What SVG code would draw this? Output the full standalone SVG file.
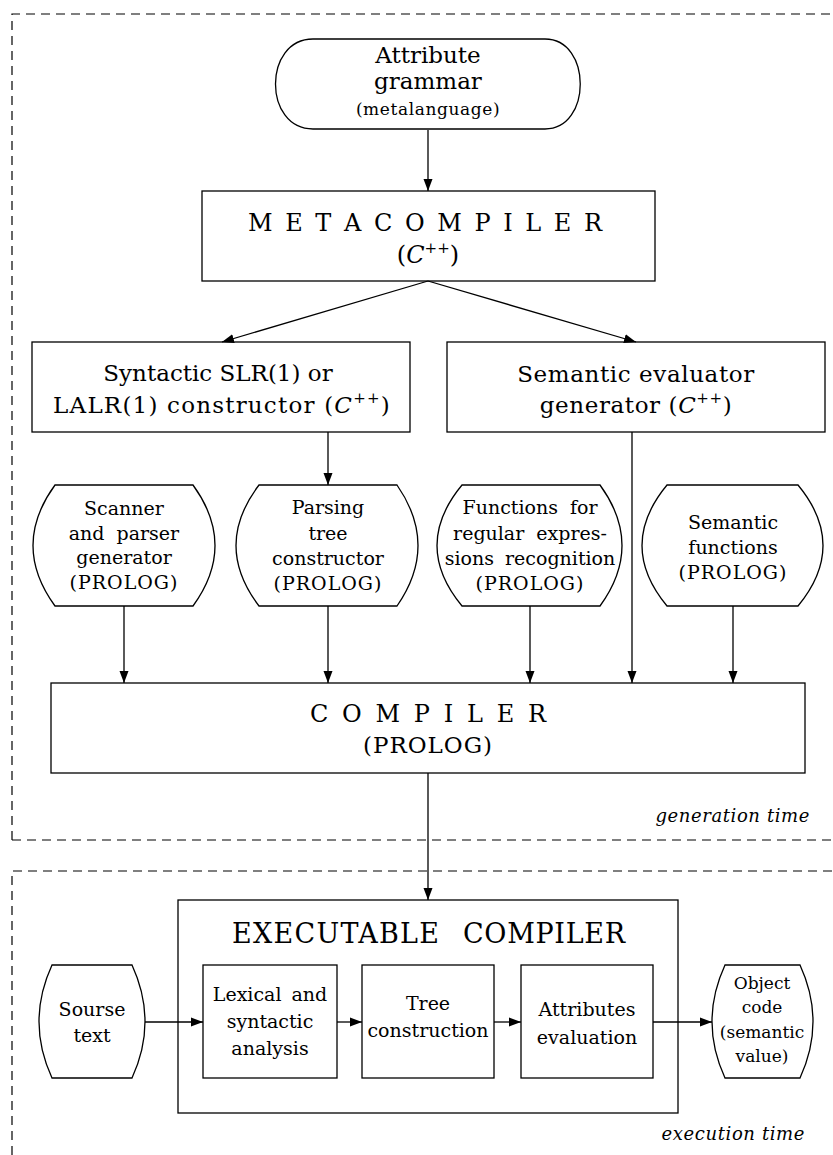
<svg xmlns="http://www.w3.org/2000/svg" width="833" height="1155" viewBox="0 0 833 1155" font-family="'DejaVu Serif', 'Liberation Serif', serif">
<defs>
<marker id="arr" viewBox="0 0 12 10" refX="12" refY="5" markerWidth="12" markerHeight="10" markerUnits="userSpaceOnUse" orient="auto">
<path d="M0,0.5 L12,5 L0,9.5 z" fill="#000"/>
</marker>
<style>
.s{fill:#fff;stroke:#000;stroke-width:1.3}
.n{fill:none;stroke:#000;stroke-width:1.3}
.d{fill:none;stroke:#000;stroke-width:1.2;stroke-dasharray:9,6}
.c{fill:none;stroke:#000;stroke-width:1.3}
text{fill:#000;text-anchor:middle}
.X{font-size:24px}
.L{font-size:23px}
.T{font-size:27px}
.M{font-size:19px}
.S{font-size:17px}
.i{font-style:italic}
.sup{font-size:15px}
.lab{font-size:18px;font-style:italic;text-anchor:end;letter-spacing:0.6px}
</style>
</defs>
<g id="regions">
<path class="d" d="M12,840 V14 H833"/>
<path class="d" d="M12,840 H833"/>
<path class="d" d="M12,1155 V871 H833"/>
<text class="lab" x="810" y="822">generation time</text>
<text class="lab" x="805" y="1140">execution time</text>
</g>
<g id="attribute-grammar">
<path class="s" d="M313,39 H545 C592,39 592,129 545,129 H313 C263,129 263,39 313,39 Z"/>
<text class="L" x="428" y="63">Attribute</text>
<text class="L" x="428" y="89">grammar</text>
<text class="S" x="428" y="115" letter-spacing="0.6">(metalanguage)</text>
</g>
<g id="metacompiler">
<rect class="s" x="202" y="191" width="453" height="90"/>
<text class="X" x="425" y="231" textLength="354" lengthAdjust="spacing">M E T A C O M P I L E R</text>
<text class="X" x="428" y="263">(<tspan class="i">C</tspan><tspan class="sup" dy="-10">++</tspan><tspan dy="10">)</tspan></text>
</g>
<g id="syntactic">
<rect class="s" x="32" y="342" width="378" height="90"/>
<text class="L" x="218" y="381">Syntactic SLR(1) or</text>
<text class="L" x="222" y="413" letter-spacing="1.2">LALR(1) constructor (<tspan class="i">C</tspan><tspan class="sup" dy="-10">++</tspan><tspan dy="10">)</tspan></text>
</g>
<g id="semantic-evaluator">
<rect class="s" x="447" y="342" width="378" height="90"/>
<text class="L" x="636" y="382" letter-spacing="0.6">Semantic evaluator</text>
<text class="L" x="636" y="413" letter-spacing="0.6">generator (<tspan class="i">C</tspan><tspan class="sup" dy="-10">++</tspan><tspan dy="10">)</tspan></text>
</g>
<g id="scanner">
<path class="s" d="M55,485 H193 Q237,545.5 193,606 H55 Q11,545.5 55,485 Z"/>
<text class="M" x="124" y="515">Scanner</text>
<text class="M" x="124" y="540" word-spacing="6">and parser</text>
<text class="M" x="124" y="564">generator</text>
<text class="M" x="124" y="589" letter-spacing="1">(PROLOG)</text>
</g>
<g id="parsing-tree">
<path class="s" d="M259,485 H397 Q439,545.5 397,606 H259 Q213,545.5 259,485 Z"/>
<text class="M" x="328" y="514">Parsing</text>
<text class="M" x="328" y="540">tree</text>
<text class="M" x="328" y="565">constructor</text>
<text class="M" x="328" y="590" letter-spacing="1">(PROLOG)</text>
</g>
<g id="regex-functions">
<path class="s" d="M462,485 H600 Q644,545.5 600,606 H462 Q412,545.5 462,485 Z"/>
<text class="M" x="530" y="514" word-spacing="6">Functions for</text>
<text class="M" x="530" y="540" word-spacing="6">regular expres-</text>
<text class="M" x="530" y="565" word-spacing="5">sions recognition</text>
<text class="M" x="530" y="590" letter-spacing="1">(PROLOG)</text>
</g>
<g id="semantic-functions">
<path class="s" d="M667,485 H798 Q848,545.5 798,606 H667 Q617,545.5 667,485 Z"/>
<text class="M" x="733" y="529">Semantic</text>
<text class="M" x="733" y="554">functions</text>
<text class="M" x="733" y="579" letter-spacing="1">(PROLOG)</text>
</g>
<g id="compiler">
<rect class="s" x="51" y="683" width="754" height="90"/>
<text class="X" x="428" y="722" textLength="236" lengthAdjust="spacing">C O M P I L E R</text>
<text class="L" x="428" y="753" letter-spacing="1">(PROLOG)</text>
</g>
<g id="executable-compiler">
<rect class="n" x="178" y="900" width="500" height="213"/>
<text class="T" y="943" style="text-anchor:start"><tspan x="232" textLength="207" lengthAdjust="spacing">EXECUTABLE</tspan> <tspan x="463" textLength="162" lengthAdjust="spacing">COMPILER</tspan></text>
</g>
<g id="source-text">
<path class="s" d="M52,965 H132 Q158,1021.5 132,1078 H52 Q26,1021.5 52,965 Z"/>
<text class="M" x="92" y="1016">Sourse</text>
<text class="M" x="92" y="1042">text</text>
</g>
<g id="lexical">
<rect class="s" x="203" y="965" width="134" height="113"/>
<text class="M" x="270" y="1001" word-spacing="4">Lexical and</text>
<text class="M" x="270" y="1028">syntactic</text>
<text class="M" x="270" y="1055">analysis</text>
</g>
<g id="tree-construction">
<rect class="s" x="362" y="965" width="132" height="113"/>
<text class="M" x="428" y="1010">Tree</text>
<text class="M" x="428" y="1037">construction</text>
</g>
<g id="attributes-evaluation">
<rect class="s" x="521" y="965" width="132" height="113"/>
<text class="M" x="587" y="1016">Attributes</text>
<text class="M" x="587" y="1044">evaluation</text>
</g>
<g id="object-code">
<path class="s" d="M725,965 H800 Q826,1021.5 800,1078 H725 Q699,1021.5 725,965 Z"/>
<text class="S" x="762" y="989">Object</text>
<text class="S" x="762" y="1013">code</text>
<text class="S" x="762" y="1038">(semantic</text>
<text class="S" x="762" y="1062">value)</text>
</g>
<g id="connectors">
<line class="c" x1="428" y1="130" x2="428" y2="191" marker-end="url(#arr)"/>
<line class="c" x1="428" y1="281" x2="222" y2="342" marker-end="url(#arr)"/>
<line class="c" x1="428" y1="281" x2="636" y2="342" marker-end="url(#arr)"/>
<line class="c" x1="328" y1="432" x2="328" y2="485" marker-end="url(#arr)"/>
<line class="c" x1="632" y1="432" x2="632" y2="683" marker-end="url(#arr)"/>
<line class="c" x1="124" y1="606" x2="124" y2="683" marker-end="url(#arr)"/>
<line class="c" x1="328" y1="606" x2="328" y2="683" marker-end="url(#arr)"/>
<line class="c" x1="530" y1="606" x2="530" y2="683" marker-end="url(#arr)"/>
<line class="c" x1="733" y1="606" x2="733" y2="683" marker-end="url(#arr)"/>
<line class="c" x1="428" y1="773" x2="428" y2="900" marker-end="url(#arr)"/>
<line class="c" x1="145" y1="1022" x2="203" y2="1022" marker-end="url(#arr)"/>
<line class="c" x1="337" y1="1022" x2="362" y2="1022" marker-end="url(#arr)"/>
<line class="c" x1="494" y1="1022" x2="521" y2="1022" marker-end="url(#arr)"/>
<line class="c" x1="653" y1="1022" x2="712" y2="1022" marker-end="url(#arr)"/>
</g>
</svg>
